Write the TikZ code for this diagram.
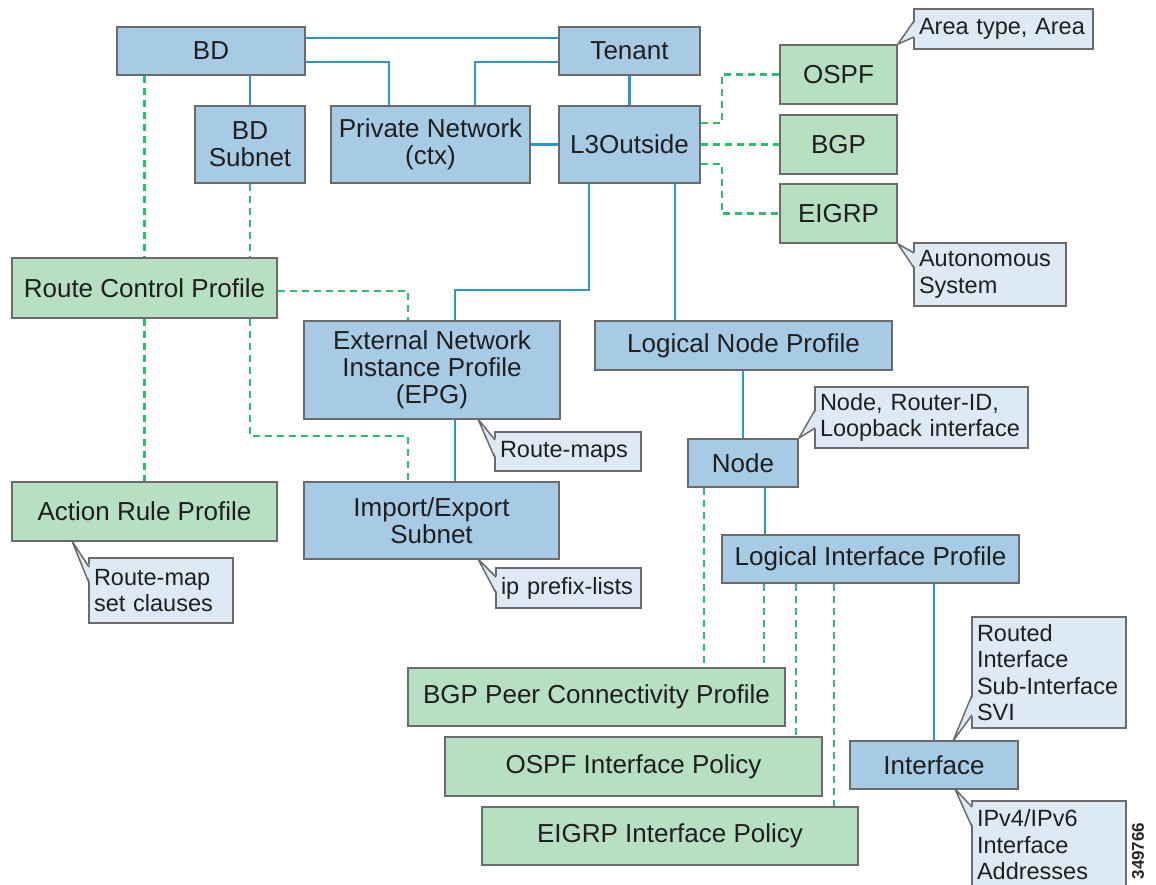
\documentclass[tikz,border=0pt]{standalone}
\usepackage{fontspec}
\setmainfont{Liberation Sans}
\usetikzlibrary{backgrounds}

\definecolor{boxblue}{RGB}{167,203,228}
\definecolor{boxgreen}{RGB}{183,223,194}
\definecolor{notefill}{RGB}{221,234,246}
\definecolor{edgegray}{RGB}{107,107,107}
\definecolor{linkblue}{RGB}{42,154,200}
\definecolor{assocgreen}{RGB}{45,190,108}

\newcommand\mainfs{\fontsize{26}{27}\selectfont}
\newcommand\notefs{\fontsize{23.5}{26.5}\selectfont}

% callout wedge: tip, x of the callout's left edge, base y1, base y2
\newcommand\ptrwedge[4]{%
  \fill[notefill] (#1) -- (#2+1.5,#3) -- (#2+1.5,#4) -- cycle;
  \draw[noteedge] (#2,#3) -- (#1) -- (#2,#4);}

\begin{document}
\begin{tikzpicture}[x=1pt,y=-1pt,
  box/.style={draw=edgegray, line width=1.8pt, inner sep=0pt, align=center,
    font=\mainfs, text=black!88},
  bluebox/.style={box, fill=boxblue},
  greenbox/.style={box, fill=boxgreen},
  dim/.style 2 args={minimum width=#1pt, minimum height=#2pt},
  noteedge/.style={draw=edgegray, line width=1.5pt, line join=round},
  note/.style 2 args={draw=edgegray, line width=1.5pt, fill=notefill,
    inner xsep=5pt, inner ysep=0pt, text width=#1pt, minimum height=#2pt,
    align=left, font=\notefs, text=black!88},
  link/.style={draw=linkblue, line width=2.7pt},
  assoc/.style={draw=assocgreen, line width=2.7pt, dash pattern=on 7pt off 5pt}]

\useasboundingbox (0,0) rectangle (1156,884);

% managed objects
\node[bluebox, dim={188}{48}] (bd) at (211,51) {BD};
\node[bluebox, dim={141}{48}] (tenant) at (629.5,51) {Tenant};
\node[bluebox, dim={110}{77}] (bdsub) at (250,144.5) {BD\\Subnet};
\node[bluebox, dim={199}{77}] (pn) at (430.5,144.5) {Private Network\\(ctx)};
\node[bluebox, dim={141}{77}] (l3) at (629.5,144.5) {L3Outside};
\node[greenbox, dim={117}{59}] (ospf) at (838.5,74.5) {OSPF};
\node[greenbox, dim={117}{59}] (bgp) at (838.5,144.5) {BGP};
\node[greenbox, dim={117}{59}] (eigrp) at (838.5,213.5) {EIGRP};
\node[greenbox, dim={265}{60}] (rcp) at (144.5,288) {Route Control Profile};
\node[bluebox, dim={256}{98}] (epg) at (432,370) {External Network\\Instance Profile\\(EPG)};
\node[bluebox, dim={297}{49}] (lnp) at (743.5,345.5) {Logical Node Profile};
\node[bluebox, dim={110}{48}] (nd) at (743,463) {Node};
\node[greenbox, dim={265}{59}] (arp) at (144.5,511.5) {Action Rule Profile};
\node[bluebox, dim={255}{77}] (ies) at (431.5,520.5) {Import/Export\\Subnet};
\node[bluebox, dim={297}{48}] (lip) at (870.5,559) {Logical Interface Profile};
\node[greenbox, dim={377}{58}] (bgpp) at (596.5,697) {BGP Peer Connectivity Profile};
\node[greenbox, dim={377}{59}] (ospfip) at (633.5,766.5) {OSPF Interface Policy};
\node[greenbox, dim={376}{58}] (eigrpip) at (670,836) {EIGRP Interface Policy};
\node[bluebox, dim={168}{48}] (intf) at (934,765) {Interface};

% callouts
\node[note={169}{40}] (nArea) at (1003.5,29) {Area type, Area};
\node[note={142}{63}] (nAS) at (990,274.5) {Autonomous\\System};
\node[note={136}{39}] (nRM) at (568,451.5) {Route-maps};
\node[note={135}{40}] (nPfx) at (568.5,588) {ip prefix-lists};
\node[note={203}{61}] (nNode) at (921.5,417.5) {Node, Router-ID,\\Loopback interface};
\node[note={134}{65}] (nSet) at (161,590.5) {Route-map\\set clauses};
\node[note={144}{111}] (nRouted) at (1049,672.5) {Routed\\Interface\\Sub-Interface\\SVI};
\node[note={144}{88}] (nAddr) at (1049,845) {IPv4/IPv6\\Interface\\Addresses};

\ptrwedge{ospf.north east}{914}{21}{37}
\ptrwedge{eigrp.south east}{914}{253}{268}
\ptrwedge{478,419}{495}{440}{458}
\ptrwedge{478,559}{496}{577}{593}
\ptrwedge{nd.north east}{815}{410}{428}
\ptrwedge{72,541}{89}{567}{583}
\ptrwedge{953,741}{972}{695}{715}
\ptrwedge{955,789}{972}{807}{827}

\node[font=\bfseries\fontsize{17}{17}\selectfont, rotate=90,
  text=black!85, inner sep=0pt] (figid) at (1138,851) {349766};

\begin{scope}[on background layer]
  % containment
  \draw[link] (bd.east |- 0,38) -- (tenant.west |- 0,38);
  \draw[link] (bd.east |- 0,62) -| (389,0 |- pn.north);
  \draw[link] (tenant.west |- 0,62) -| (475,0 |- pn.north);
  \draw[link] (tenant) -- (l3);
  \draw[link] (pn) -- (l3);
  \draw[link] (bd.south -| bdsub.north) -- (bdsub.north);
  \draw[link] (589,0 |- l3.south) |- (455,290) -- (455,0 |- epg.north);
  \draw[link] (675,0 |- l3.south) -- (675,0 |- lnp.north);
  \draw[link] (lnp.south -| nd.north) -- (nd.north);
  \draw[link] (765,0 |- nd.south) -- (765,0 |- lip.north);
  \draw[link] (455,0 |- epg.south) -- (455,0 |- ies.north);
  \draw[link] (intf.north |- lip.south) -- (intf.north);
  % associations
  \draw[assoc] (l3.east |- 0,123) -- (722,123) |- (ospf.west);
  \draw[assoc] (l3) -- (bgp);
  \draw[assoc] (l3.east |- 0,164) -- (722,164) |- (eigrp.west);
  \draw[assoc] (bd.south -| rcp.north) -- (rcp.north);
  \draw[assoc] (bdsub.south) -- (bdsub.south |- rcp.north);
  \draw[assoc] (rcp.east |- 0,291) -| (408,0 |- epg.north);
  \draw[assoc] (rcp) -- (arp);
  \draw[assoc] (250,0 |- rcp.south) |- (408,436) -- (408,0 |- ies.north);
  \draw[assoc] (704,0 |- nd.south) -- (704,0 |- bgpp.north);
  \draw[assoc] (764,0 |- lip.south) -- (764,0 |- bgpp.north);
  \draw[assoc] (796,0 |- lip.south) -- (796,0 |- ospfip.north);
  \draw[assoc] (834,0 |- lip.south) -- (834,0 |- eigrpip.north);
\end{scope}
\end{tikzpicture}
\end{document}
